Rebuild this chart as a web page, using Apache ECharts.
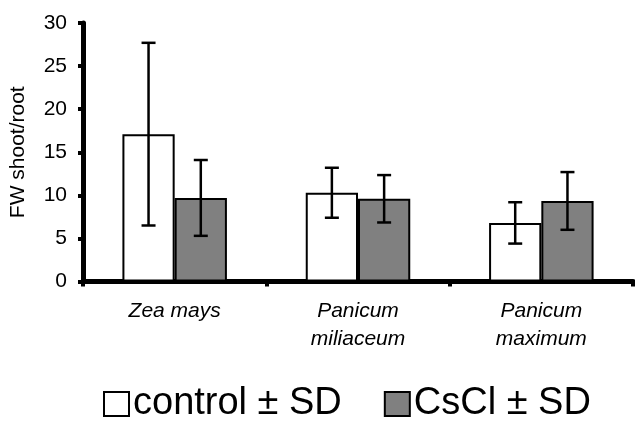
<!DOCTYPE html>
<html>
<head>
<meta charset="utf-8">
<script src="https://cdn.jsdelivr.net/npm/echarts@6/dist/echarts.min.js"></script>
<style>html,body{margin:0;padding:0;background:#fff}#c{width:635px;height:421px}</style>
</head>
<body>
<div id="c"></div>
<script>
var categories = ['Zea mays', 'Panicum\nmiliaceum', 'Panicum\nmaximum'];
var controlMean = [17.1, 10.3, 6.8];
var controlSD = [10.6, 2.9, 2.4];
var csclMean = [9.7, 9.6, 9.35];
var csclSD = [4.4, 2.75, 3.35];
var yTicks = [0, 5, 10, 15, 20, 25, 30];
var seriesNames = ['control \u00b1 SD', 'CsCl \u00b1 SD'];

var FONT = '"Liberation Sans", Arial, sans-serif';
var GAP = 0.43;

function errData(mean, sd) {
  return mean.map(function (m, i) { return [i, m - sd[i], m + sd[i]]; });
}
function errSeries(mean, sd, side) {
  return {
    type: 'custom',
    silent: true,
    z: 10,
    data: errData(mean, sd),
    encode: { x: 0, y: [1, 2] },
    renderItem: function (params, api) {
      var i = api.value(0);
      var lo = api.coord([i, api.value(1)]);
      var hi = api.coord([i, api.value(2)]);
      var band = api.size([1, 0])[0];
      var barW = band * (1 - GAP) / 2;
      var x = lo[0] + side * barW / 2;
      var cap = 7;
      var st = { stroke: '#000', lineWidth: 2.5 };
      return {
        type: 'group',
        children: [
          { type: 'line', shape: { x1: x, y1: lo[1], x2: x, y2: hi[1] }, style: st },
          { type: 'line', shape: { x1: x - cap, y1: lo[1], x2: x + cap, y2: lo[1] }, style: st },
          { type: 'line', shape: { x1: x - cap, y1: hi[1], x2: x + cap, y2: hi[1] }, style: st }
        ]
      };
    }
  };
}

var chart = echarts.init(document.getElementById('c'), null, { renderer: 'canvas' });
chart.setOption({
  animation: false,
  backgroundColor: '#fff',
  textStyle: { fontFamily: FONT },
  grid: { left: 78, right: 2, top: 23, bottom: 139.5 },
  legend: {
    data: seriesNames,
    left: 98,
    top: 380,
    icon: 'rect',
    itemWidth: 25,
    itemHeight: 24,
    itemGap: 42,
    textStyle: { fontSize: 38, color: '#000', fontFamily: FONT, padding: [0, 0, 0, -1] }
  },
  xAxis: {
    type: 'category',
    data: categories,
    axisLine: { lineStyle: { color: '#000', width: 5 } },
    axisTick: { show: true, length: 5, lineStyle: { color: '#000', width: 4 } },
    axisLabel: { fontSize: 21, fontStyle: 'italic', color: '#000', lineHeight: 28, margin: 16, fontFamily: FONT }
  },
  yAxis: {
    type: 'value',
    min: yTicks[0],
    max: yTicks[yTicks.length - 1],
    interval: 5,
    name: 'FW shoot/root',
    nameLocation: 'middle',
    nameGap: 54,
    nameTextStyle: { fontSize: 21, color: '#000', fontFamily: FONT },
    splitLine: { show: false },
    axisLine: { show: true, lineStyle: { color: '#000', width: 5 } },
    axisTick: { show: true, length: 5, lineStyle: { color: '#000', width: 4 } },
    axisLabel: { fontSize: 21, color: '#000', margin: 16, fontFamily: FONT }
  },
  series: [
    {
      name: seriesNames[0], type: 'bar', data: controlMean, barGap: '0%', barCategoryGap: '43%',
      itemStyle: { color: '#fff', borderColor: '#000', borderWidth: 2 }
    },
    {
      name: seriesNames[1], type: 'bar', data: csclMean, barGap: '0%', barCategoryGap: '43%',
      itemStyle: { color: '#808080', borderColor: '#000', borderWidth: 2 }
    },
    errSeries(controlMean, controlSD, -1),
    errSeries(csclMean, csclSD, 1)
  ]
});
</script>
</body>
</html>
